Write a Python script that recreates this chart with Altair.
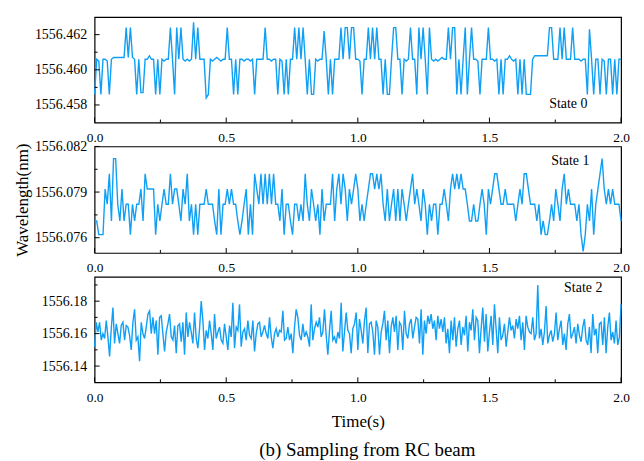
import altair as alt
import pandas as pd
import numpy as np

# ---------------- data ----------------
state0 = [
    1556.4586, 1556.4606, 1556.4605, 1556.4586, 1556.4606, 1556.4606, 1556.4605, 1556.4586, 1556.4606, 1556.4607,
    1556.4607, 1556.4607, 1556.4607, 1556.4607, 1556.4607, 1556.4624, 1556.4607, 1556.4624, 1556.4607, 1556.4606,
    1556.4586, 1556.4606, 1556.4587, 1556.4587, 1556.4606, 1556.4606, 1556.4608, 1556.4606, 1556.4606, 1556.4586,
    1556.4606, 1556.4586, 1556.4606, 1556.4605, 1556.4606, 1556.4606, 1556.4624, 1556.4606, 1556.4586, 1556.4624,
    1556.4606, 1556.4624, 1556.4606, 1556.4605, 1556.4606, 1556.4605, 1556.4606, 1556.4627, 1556.4606, 1556.4624,
    1556.4606, 1556.4606, 1556.4606, 1556.4584, 1556.4586, 1556.4606, 1556.4605, 1556.4606, 1556.4607, 1556.4606,
    1556.4605, 1556.4606, 1556.4606, 1556.4624, 1556.4606, 1556.4606, 1556.4586, 1556.4606, 1556.4586, 1556.4606,
    1556.4606, 1556.4605, 1556.4606, 1556.4606, 1556.4605, 1556.4606, 1556.4586, 1556.4606, 1556.4606, 1556.4606,
    1556.4606, 1556.4624, 1556.4606, 1556.4606, 1556.4605, 1556.4606, 1556.4606, 1556.4586, 1556.4606, 1556.4605,
    1556.4586, 1556.4606, 1556.4586, 1556.4606, 1556.4606, 1556.4624, 1556.4606, 1556.4624, 1556.4606, 1556.4624,
    1556.4606, 1556.4586, 1556.4606, 1556.4586, 1556.4586, 1556.4606, 1556.4605, 1556.4606, 1556.4606, 1556.4622,
    1556.4606, 1556.4586, 1556.4606, 1556.4586, 1556.4606, 1556.4606, 1556.4606, 1556.4624, 1556.4606, 1556.4624,
    1556.4624, 1556.4606, 1556.4624, 1556.4624, 1556.4606, 1556.4606, 1556.4605, 1556.4586, 1556.4606, 1556.4606,
    1556.4624, 1556.4606, 1556.4624, 1556.4606, 1556.4624, 1556.4606, 1556.4606, 1556.4586, 1556.4606, 1556.4586,
    1556.4586, 1556.4606, 1556.4624, 1556.4624, 1556.4606, 1556.4606, 1556.4586, 1556.4606, 1556.4605, 1556.4606,
    1556.4624, 1556.4606, 1556.4606, 1556.4586, 1556.4624, 1556.4606, 1556.4624, 1556.4606, 1556.4586, 1556.4624,
    1556.4606, 1556.4605, 1556.4606, 1556.4605, 1556.4606, 1556.4607, 1556.4606, 1556.4606, 1556.4624, 1556.4606,
    1556.4624, 1556.4624, 1556.4586, 1556.4606, 1556.4586, 1556.4606, 1556.4624, 1556.4586, 1556.4606, 1556.4624,
    1556.4606, 1556.4606, 1556.4605, 1556.4586, 1556.4606, 1556.4606, 1556.4606, 1556.4624, 1556.4606, 1556.4606,
    1556.4605, 1556.4606, 1556.4586, 1556.4606, 1556.4586, 1556.4606, 1556.4606, 1556.4608, 1556.4606, 1556.4605,
    1556.4606, 1556.4586, 1556.4606, 1556.4586, 1556.4606, 1556.4586, 1556.4586, 1556.4586, 1556.4606, 1556.4608,
    1556.4608, 1556.4608, 1556.4608, 1556.4608, 1556.4608, 1556.4608, 1556.4624, 1556.4624, 1556.4606, 1556.4606,
    1556.4606, 1556.4624, 1556.4606, 1556.4624, 1556.4606, 1556.4606, 1556.4606, 1556.4624, 1556.4606, 1556.4606,
    1556.4606, 1556.4605, 1556.4606, 1556.4606, 1556.4586, 1556.4623, 1556.4606, 1556.4586, 1556.4606, 1556.4606,
    1556.4586, 1556.4606, 1556.4605, 1556.4586, 1556.4606, 1556.4606, 1556.4586, 1556.4606, 1556.4586, 1556.4606,
    1556.4606,
]

state1 = [
    1556.0771, 1556.0771, 1556.0762, 1556.0762, 1556.0762, 1556.0792, 1556.0782, 1556.0802, 1556.0771, 1556.0812,
    1556.0812, 1556.0782, 1556.0771, 1556.0792, 1556.0771, 1556.0782, 1556.0782, 1556.0762, 1556.0782, 1556.0771,
    1556.0782, 1556.0782, 1556.0792, 1556.0771, 1556.0802, 1556.0792, 1556.0792, 1556.0792, 1556.0792, 1556.0762,
    1556.0782, 1556.0771, 1556.0782, 1556.0792, 1556.0782, 1556.0782, 1556.0802, 1556.0782, 1556.0792, 1556.0792,
    1556.0782, 1556.0771, 1556.0792, 1556.0782, 1556.0802, 1556.0771, 1556.0782, 1556.0762, 1556.0782, 1556.0762,
    1556.0782, 1556.0782, 1556.0782, 1556.0792, 1556.0782, 1556.0782, 1556.0782, 1556.0771, 1556.0762, 1556.0792,
    1556.0762, 1556.0782, 1556.0782, 1556.0792, 1556.0782, 1556.0792, 1556.0782, 1556.0782, 1556.0771, 1556.0762,
    1556.0771, 1556.0782, 1556.0792, 1556.0762, 1556.0782, 1556.0762, 1556.0802, 1556.0792, 1556.0782, 1556.0802,
    1556.0782, 1556.0802, 1556.0782, 1556.0802, 1556.0782, 1556.0802, 1556.0782, 1556.0782, 1556.0771, 1556.0792,
    1556.0762, 1556.0782, 1556.0782, 1556.0771, 1556.0762, 1556.0782, 1556.0782, 1556.0771, 1556.0782, 1556.0771,
    1556.0802, 1556.0782, 1556.0771, 1556.0792, 1556.0782, 1556.0771, 1556.0782, 1556.0762, 1556.0792, 1556.0771,
    1556.0782, 1556.0782, 1556.0782, 1556.0802, 1556.0771, 1556.0792, 1556.0802, 1556.0782, 1556.0802, 1556.0792,
    1556.0771, 1556.0792, 1556.0782, 1556.0792, 1556.0802, 1556.0792, 1556.0771, 1556.0782, 1556.0771, 1556.0782,
    1556.0792, 1556.0802, 1556.0802, 1556.0792, 1556.0802, 1556.0792, 1556.0802, 1556.0782, 1556.0771, 1556.0792,
    1556.0771, 1556.0782, 1556.0792, 1556.0771, 1556.0792, 1556.0771, 1556.0792, 1556.0782, 1556.0771, 1556.0782,
    1556.0792, 1556.0802, 1556.0782, 1556.0792, 1556.0782, 1556.0771, 1556.0792, 1556.0782, 1556.0762, 1556.0782,
    1556.0771, 1556.0782, 1556.0782, 1556.0762, 1556.0782, 1556.0782, 1556.0792, 1556.0782, 1556.0771, 1556.0792,
    1556.0802, 1556.0792, 1556.0802, 1556.0792, 1556.0802, 1556.0792, 1556.0792, 1556.0782, 1556.0771, 1556.0771,
    1556.0782, 1556.0771, 1556.0771, 1556.0782, 1556.0792, 1556.0782, 1556.0762, 1556.0792, 1556.0782, 1556.0792,
    1556.0802, 1556.0802, 1556.0792, 1556.0782, 1556.0782, 1556.0792, 1556.0782, 1556.0782, 1556.0782, 1556.0782,
    1556.0771, 1556.0782, 1556.0792, 1556.0782, 1556.0802, 1556.0802, 1556.0792, 1556.0782, 1556.0782, 1556.0782,
    1556.0771, 1556.0782, 1556.0762, 1556.0771, 1556.0762, 1556.0762, 1556.0771, 1556.0782, 1556.0771, 1556.0792,
    1556.0782, 1556.0771, 1556.0792, 1556.0802, 1556.0782, 1556.0792, 1556.0782, 1556.0782, 1556.0782, 1556.0771,
    1556.0782, 1556.0762, 1556.0751, 1556.0762, 1556.0782, 1556.0771, 1556.0792, 1556.0762, 1556.0782, 1556.0792,
    1556.0802, 1556.0812, 1556.0792, 1556.0782, 1556.0792, 1556.0782, 1556.0792, 1556.0782, 1556.0782, 1556.0782,
    1556.0771,
]

state2 = [
    1556.152, 1556.167, 1556.161, 1556.167, 1556.156, 1556.160, 1556.157, 1556.168, 1556.158, 1556.146,
    1556.163, 1556.176, 1556.154, 1556.166, 1556.160, 1556.154, 1556.165, 1556.167, 1556.156, 1556.165,
    1556.164, 1556.159, 1556.150, 1556.167, 1556.175, 1556.156, 1556.158, 1556.143, 1556.167, 1556.160,
    1556.157, 1556.164, 1556.172, 1556.174, 1556.160, 1556.170, 1556.160, 1556.168, 1556.147, 1556.170,
    1556.171, 1556.160, 1556.149, 1556.161, 1556.166, 1556.172, 1556.158, 1556.156, 1556.165, 1556.148,
    1556.165, 1556.166, 1556.155, 1556.167, 1556.147, 1556.173, 1556.158, 1556.167, 1556.161, 1556.154,
    1556.173, 1556.157, 1556.151, 1556.163, 1556.180, 1556.168, 1556.150, 1556.162, 1556.157, 1556.168,
    1556.160, 1556.150, 1556.172, 1556.157, 1556.161, 1556.164, 1556.156, 1556.154, 1556.166, 1556.158,
    1556.150, 1556.165, 1556.158, 1556.179, 1556.151, 1556.164, 1556.162, 1556.178, 1556.152, 1556.161,
    1556.163, 1556.156, 1556.168, 1556.159, 1556.157, 1556.168, 1556.149, 1556.160, 1556.166, 1556.167,
    1556.158, 1556.161, 1556.165, 1556.160, 1556.157, 1556.170, 1556.158, 1556.151, 1556.160, 1556.163,
    1556.158, 1556.162, 1556.161, 1556.174, 1556.156, 1556.157, 1556.164, 1556.156, 1556.160, 1556.148,
    1556.164, 1556.175, 1556.170, 1556.159, 1556.156, 1556.166, 1556.158, 1556.161, 1556.158, 1556.152,
    1556.178, 1556.156, 1556.163, 1556.167, 1556.164, 1556.170, 1556.158, 1556.161, 1556.175, 1556.159,
    1556.147, 1556.162, 1556.174, 1556.156, 1556.158, 1556.154, 1556.161, 1556.157, 1556.179, 1556.149,
    1556.161, 1556.173, 1556.162, 1556.160, 1556.148, 1556.163,
    1556.166, 1556.173, 1556.150, 1556.169, 1556.162, 1556.154, 1556.168, 1556.176, 1556.148, 1556.166,
    1556.167, 1556.161, 1556.147, 1556.168, 1556.164, 1556.147, 1556.161, 1556.166, 1556.174, 1556.156,
    1556.168, 1556.148, 1556.164, 1556.170, 1556.161, 1556.171, 1556.150, 1556.167, 1556.165, 1556.150,
    1556.174, 1556.160, 1556.157, 1556.166, 1556.169, 1556.157, 1556.164, 1556.170, 1556.169, 1556.154,
    1556.175, 1556.147, 1556.168, 1556.160, 1556.171, 1556.166, 1556.172, 1556.163, 1556.168, 1556.156,
    1556.171, 1556.163, 1556.169, 1556.161, 1556.170, 1556.154, 1556.163, 1556.148, 1556.168, 1556.156,
    1556.170, 1556.152, 1556.163, 1556.168, 1556.153, 1556.164, 1556.159, 1556.171, 1556.149, 1556.167,
    1556.162, 1556.175, 1556.156, 1556.170, 1556.168, 1556.148, 1556.163, 1556.176, 1556.155, 1556.172,
    1556.149, 1556.161, 1556.171, 1556.153, 1556.178, 1556.163, 1556.148, 1556.170, 1556.156, 1556.159,
    1556.166, 1556.152, 1556.161, 1556.170, 1556.162, 1556.165, 1556.157, 1556.169, 1556.163, 1556.171,
    1556.156, 1556.167, 1556.150, 1556.171, 1556.164, 1556.161, 1556.160, 1556.170, 1556.156, 1556.160,
    1556.190, 1556.157, 1556.163, 1556.153, 1556.161, 1556.177, 1556.154, 1556.159, 1556.162, 1556.155,
    1556.160, 1556.173, 1556.156, 1556.163, 1556.168, 1556.153, 1556.160, 1556.150, 1556.166, 1556.172,
    1556.157, 1556.160, 1556.164, 1556.154, 1556.166, 1556.159, 1556.155, 1556.164, 1556.169, 1556.156,
    1556.153, 1556.164, 1556.148, 1556.172, 1556.159, 1556.163, 1556.148, 1556.166, 1556.167, 1556.153,
    1556.170, 1556.148, 1556.164, 1556.173, 1556.156, 1556.161, 1556.154, 1556.168, 1556.153, 1556.158,
    1556.178,
]

time_range = [0.0, 2.0]
x_major = [0.0, 0.5, 1.0, 1.5, 2.0]
x_minor = [0.25, 0.75, 1.25, 1.75]

y0_domain = [1556.457, 1556.463]
y0_major = [1556.458, 1556.460, 1556.462]
y0_minor = [1556.459, 1556.461]

y1_domain = [1556.075, 1556.082]
y1_major = [1556.076, 1556.079, 1556.082]
y1_minor = [1556.0775, 1556.0805]

y2_domain = [1556.13, 1556.195]
y2_major = [1556.14, 1556.16, 1556.18]
y2_minor = [1556.15, 1556.17, 1556.19]

state_labels = ["State 0", "State 1", "State 2"]
x_title = "Time(s)"
y_title = "Wavelength(nm)"
caption = ["(b) Sampling from RC beam"]

# ---------------- styling ----------------
LINE = "#0FA0F5"
FONT = "Liberation Serif"
W = 529


def panel(values, domain, ymaj, ymin, fmt, label, lx, ly, h, ytitle=None, xtitle=None, cap=None):
    t = np.linspace(time_range[0], time_range[1], len(values))
    df = pd.DataFrame({"t": t, "v": values})
    xaxis = alt.Axis(values=x_major, format=".1f", title=xtitle if xtitle else None,
                     labelPadding=8, titlePadding=10, labelFlush=False)
    yaxis = alt.Axis(values=ymaj, format=fmt, title=ytitle if ytitle else None,
                     labelPadding=8, titlePadding=3, labelFlush=False)
    xenc = alt.X("t:Q", scale=alt.Scale(domain=time_range, nice=False, zero=False), axis=xaxis)
    yenc = alt.Y("v:Q", scale=alt.Scale(domain=domain, nice=False, zero=False), axis=yaxis)

    line = alt.Chart(df).mark_line(color=LINE, strokeWidth=1.4).encode(x=xenc, y=yenc)

    xtm = alt.Chart(pd.DataFrame({"t": x_major})).mark_rule(color="black", strokeWidth=1).encode(
        x=xenc, y=alt.value(h), y2=alt.value(h - 5))
    xtn = alt.Chart(pd.DataFrame({"t": x_minor})).mark_rule(color="black", strokeWidth=1).encode(
        x=xenc, y=alt.value(h), y2=alt.value(h - 3))
    ytm = alt.Chart(pd.DataFrame({"v": ymaj})).mark_rule(color="black", strokeWidth=1).encode(
        y=yenc, x=alt.value(0), x2=alt.value(5))
    ytn = alt.Chart(pd.DataFrame({"v": ymin})).mark_rule(color="black", strokeWidth=1).encode(
        y=yenc, x=alt.value(0), x2=alt.value(3))

    txt = alt.Chart(pd.DataFrame({"label": [label]})).mark_text(
        font=FONT, fontSize=14, align="center", baseline="middle", color="black"
    ).encode(text="label:N", x=alt.value(lx), y=alt.value(ly))

    layers = [line, xtm, xtn, ytm, ytn, txt]
    if cap is not None:
        c = alt.Chart(pd.DataFrame({"label": cap})).mark_text(
            font=FONT, fontSize=19, align="center", baseline="middle", color="black"
        ).encode(text="label:N", x=alt.value(274), y=alt.value(h + 68))
        layers.append(c)
    return alt.layer(*layers).properties(width=W, height=h)


p0 = panel(state0, y0_domain, y0_major, y0_minor, ".3f", state_labels[0], 476, 87, 106)
p1 = panel(state1, y1_domain, y1_major, y1_minor, ".3f", state_labels[1], 478, 15, 107, ytitle=y_title)
p2 = panel(state2, y2_domain, y2_major, y2_minor, ".2f", state_labels[2], 491, 11, 106, xtitle=x_title,
           cap=caption)

chart = alt.vconcat(p0, p1, p2, spacing=24, bounds="flush").properties(
    padding={"left": 4, "top": 7, "right": 5, "bottom": 5}
).configure_view(
    stroke="black", strokeWidth=1.2
).configure_axis(
    labelFont=FONT, titleFont=FONT, labelColor="black", titleColor="black",
    titleFontWeight="normal", titleFontSize=17, domain=False, ticks=False, tickSize=0, grid=False
).configure_axisX(
    labelFontSize=13.5
).configure_axisY(
    labelFontSize=14
)

chart.save("out.html", embed_options={"renderer": "svg", "actions": False})
